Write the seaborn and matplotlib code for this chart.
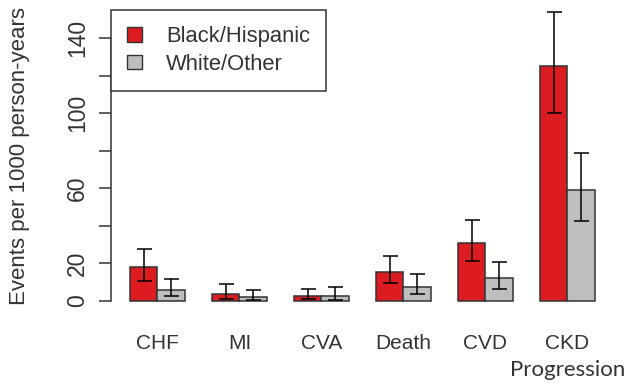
import matplotlib
matplotlib.use("Agg")
import matplotlib.pyplot as plt
from matplotlib.patches import Patch
import numpy as np
import pandas as pd
import seaborn as sns

#################################################################################
# data
outcomes = ["CHF", "MI", "CVA", "Death", "CVD", "CKD"]
groups = ["Black/Hispanic", "White/Other"]

black_rate = [18.0, 3.8, 2.3, 15.6, 30.7, 125.0]
black_lo = [10.8, 1.2, 1.0, 9.4, 21.4, 100.4]
black_hi = [27.5, 8.9, 6.4, 24.0, 43.0, 154.0]

white_rate = [5.5, 2.0, 2.7, 7.6, 12.0, 59.0]
white_lo = [2.3, 0.3, 0.2, 3.7, 6.2, 42.6]
white_hi = [11.7, 5.9, 7.6, 14.2, 20.6, 79.0]

yticks = [0, 20, 40, 60, 80, 100, 120, 140]
ytick_labels = ["0", "20", "", "60", "", "100", "", "140"]

red = "#DD1C22"
grey = "#BEBEBE"
edge = "#333333"

df = pd.DataFrame({
    "outcome": outcomes * 2,
    "group": [groups[0]] * 6 + [groups[1]] * 6,
    "rate": black_rate + white_rate,
})

#################################################################################
# plot
sns.set_style("white")
plt.rcParams["font.family"] = ["Liberation Sans", "DejaVu Sans"]

fig = plt.figure(figsize=(6.3, 3.89), dpi=100)
ax = fig.add_axes([111 / 630, 1 - 312 / 389, 509 / 630, 303.7 / 389])

sns.barplot(data=df, x="outcome", y="rate", hue="group", order=outcomes,
            hue_order=groups, palette=[red, grey], saturation=1, width=2 / 3,
            gap=0, errorbar=None, edgecolor=edge, linewidth=1.1, legend=False,
            ax=ax)

# error bars on top of the bars
for cont, rate, lo, hi in zip(ax.containers, [black_rate, white_rate],
                              [black_lo, white_lo], [black_hi, white_hi]):
    xs = [b.get_x() + b.get_width() / 2 for b in cont]
    rate = np.array(rate)
    yerr = [rate - np.array(lo), np.array(hi) - rate]
    ax.errorbar(xs, rate, yerr=yerr, fmt="none", ecolor="black",
                elinewidth=1.1, capsize=5.4, capthick=1.1)

ax.set_xlim(-0.566, -0.566 + 509 / 82)
ax.set_ylim(-6, 156)

for s in ["top", "right", "bottom"]:
    ax.spines[s].set_visible(False)
ax.spines["left"].set_bounds(0, 140)
ax.spines["left"].set_color(edge)
ax.spines["left"].set_linewidth(1.1)

ax.set_yticks(yticks)
ax.set_yticklabels(ytick_labels, rotation=90, va="center", fontsize=16.5,
                   color="#333333")
ax.tick_params(axis="y", length=9, width=1.1, color=edge, pad=7, left=True)
ax.tick_params(axis="x", length=0, pad=16, labelsize=15, labelcolor="#333333")
ax.set_xlabel("")
ax.set_ylabel("")

fig.text(19.5 / 630, 1 - 156 / 389, "Events per 1000 person-years", rotation=90,
         ha="center", va="center", fontsize=16, color="#333333")

# second line of the last label, pasted in another font
ax.text(5.0, -0.191, "Progression", transform=ax.get_xaxis_transform(),
        ha="center", va="center", fontsize=16, color="#333333",
        family=["Lato", "DejaVu Sans"])

handles = [Patch(facecolor=red, edgecolor=edge), Patch(facecolor=grey, edgecolor=edge)]
leg = ax.legend(handles, groups, loc="upper left", bbox_to_anchor=(0, 0.995),
                borderaxespad=0, fancybox=False, framealpha=1, fontsize=15.8,
                handlelength=0.65, handleheight=0.65, handletextpad=1.1,
                labelspacing=0.3, borderpad=0.75)
leg.get_frame().set_edgecolor(edge)
leg.get_frame().set_linewidth(1.1)
for t in leg.get_texts():
    t.set_color("#333333")

fig.savefig("out.png", dpi=100, facecolor="white")
